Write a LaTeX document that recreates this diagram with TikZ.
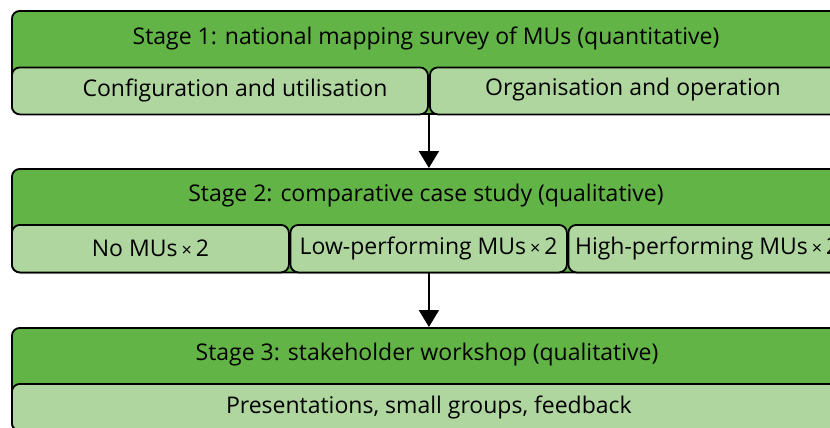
\documentclass[tikz,border=0pt]{standalone}
\usepackage{fontspec}
\setmainfont{Open Sans}
\usetikzlibrary{arrows.meta}
\definecolor{headgreen}{HTML}{62B446}
\definecolor{subgreen}{HTML}{B0D6A0}
\newcommand{\tms}{\kern2pt{\fontsize{9}{10}\selectfont×}\kern2pt}

\begin{document}
\begin{tikzpicture}[x=0.5pt, y=-0.5pt, font=\fontsize{11.5}{13}\selectfont,
  stagebox/.style={draw, line width=0.9pt, rounded corners=4pt, fill=headgreen,
    inner sep=0pt, anchor=north west, minimum width=417pt, minimum height=51.5pt},
  subbox/.style={draw, line width=0.9pt, rounded corners=4pt, fill=subgreen,
    inner sep=0pt, anchor=north west, minimum height=23.5pt},
  flow/.style={line width=1pt, -{Triangle[width=10pt, length=8.5pt]}}]
  \useasboundingbox (0,0) rectangle (830,428);
  \clip (0,0) rectangle (830,428);
  % stage 1
  \node[stagebox] (s1) at (11,10) {};
  \node[subbox, minimum width=208pt] (conf) at (11,66.5) {};
  \node[subbox, minimum width=208pt] (org) at (429,66.5) {};
  \node (t1) at (426,38) {Stage 1: national mapping survey of MUs (quantitative)};
  \node at (235,90) {Configuration and utilisation};
  \node at (633,90) {Organisation and operation};
  % stage 2
  \node[stagebox, minimum height=51.75pt] (s2) at (11,168) {};
  \node[subbox, minimum width=138.5pt, minimum height=23.75pt] (none) at (11,224) {};
  \node[subbox, minimum width=138.25pt, minimum height=23.75pt] (low) at (289.5,224) {};
  \node[subbox, minimum width=138.75pt, minimum height=23.75pt] (high) at (567.5,224) {};
  \node (t2) at (426,196) {Stage 2: comparative case study (qualitative)};
  \node at (none) {No MUs\tms 2};
  \node at (low) {Low-performing MUs\tms 2};
  \node at (high) {High-performing MUs\tms 2};
  % stage 3
  \node[stagebox] (s3) at (11,327) {};
  \node[subbox, minimum width=417pt] (pres) at (11,383) {};
  \node (t3) at (427,355) {Stage 3: stakeholder workshop (qualitative)};
  \node at (pres) {Presentations, small groups, feedback};
  % arrows
  \draw[flow] (s1.south) -- (s2.north);
  \draw[flow] (s2.south) -- (s3.north);
\end{tikzpicture}
\end{document}
